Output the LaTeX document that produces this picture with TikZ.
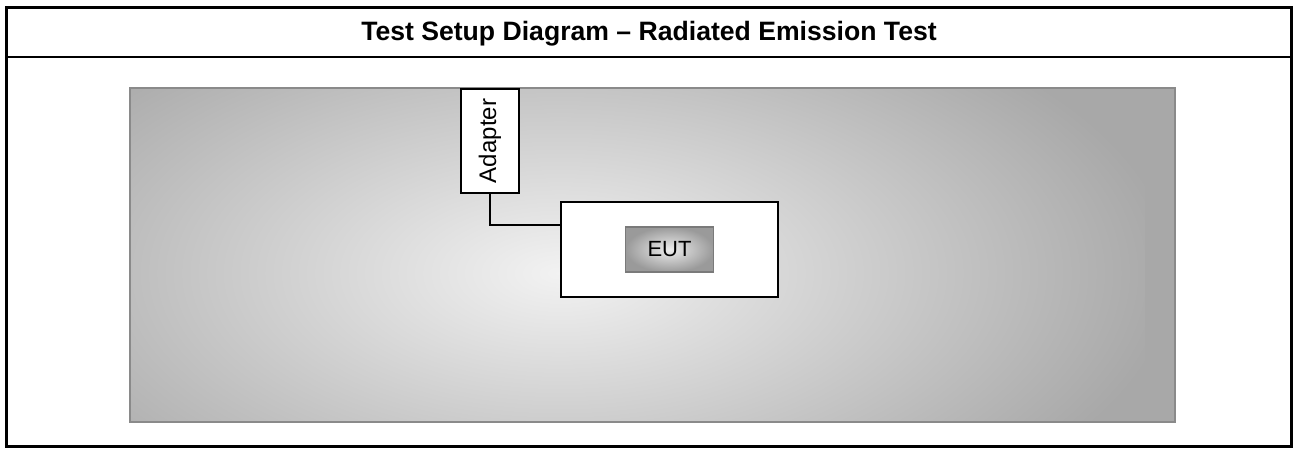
\documentclass[tikz,border=0pt]{standalone}
\usepackage{fontspec}
\setmainfont{Liberation Sans}
\usepackage{tikz}
\usetikzlibrary{positioning,calc}
\definecolor{clRoomLight}{HTML}{F2F2F2}
\definecolor{clRoomDark}{HTML}{A8A8A8}
\definecolor{clRoomEdge}{HTML}{8A8A8A}
\definecolor{clEutLight}{HTML}{EDEDED}
\definecolor{clEutDark}{HTML}{9A9A9A}
\definecolor{clEutEdge}{HTML}{7A7A7A}
\tikzset{
  outerframe/.style={draw=black, line width=3pt},
  titlerule/.style={draw=black, line width=2.5pt},
  heading/.style={font=\fontsize{26.6}{32}\selectfont\bfseries, inner sep=0pt, anchor=base},
  room/.style={rectangle, draw=clRoomEdge, fill=clRoomDark, line width=1.5pt, inner sep=0pt,
               minimum width=1045pt, minimum height=334pt},
  unitbox/.style={rectangle, draw=black, fill=white, line width=2pt, inner sep=0pt},
  eutbox/.style={rectangle, draw=clEutEdge, line width=1.5pt, inner color=clEutLight,
                 outer color=clEutDark, inner sep=0pt, minimum width=88pt,
                 minimum height=45pt, font=\fontsize{22}{26}\selectfont},
  cable/.style={draw=black, line width=2pt},
}

\begin{document}
\begin{tikzpicture}[x=1pt, y=-1pt]
  \useasboundingbox (0,0) rectangle (1293,448);
  \draw[outerframe] (6.5,7.5) rectangle (1291.5,446.5);
  \coordinate (ruleL) at (6.5,57);
  \coordinate (ruleR) at (1291.5,57);
  \draw[titlerule] (ruleL) -- (ruleR);
  \node[heading] (title) at (649,40.7) {Test Setup Diagram -- Radiated Emission Test};
  \node[room, path picture={
      \shade[inner color=clRoomLight, outer color=clRoomDark] (-707.5,-282) rectangle (492.5,318);
    }] (room) at (652.5,255) {};
  \node[unitbox, minimum width=58pt, minimum height=104pt, font=\fontsize{24}{28}\selectfont]
    (adapter) at (490,141) {\rotatebox{90}{Adapter}};
  \node[unitbox, minimum width=217pt, minimum height=95pt] (table) at (669.5,249.5) {};
  \node[eutbox] (eut) at (table.center) {EUT};
  \draw[cable] (adapter.south) |- ([yshift=24.5pt]table.west);
\end{tikzpicture}
\end{document}
